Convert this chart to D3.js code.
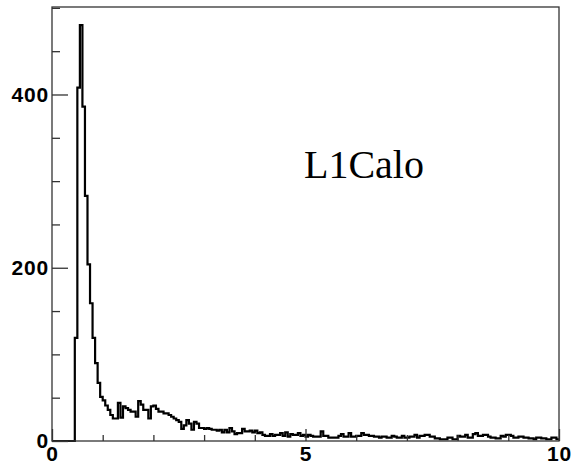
<!DOCTYPE html>
<html>
<head>
<meta charset="utf-8">
<script src="https://cdn.jsdelivr.net/npm/d3@7"></script>
<style>
  body { margin: 0; background: #fff; }
  svg { display: block; }
  .tick text { font-family: "Liberation Sans", Arial, sans-serif; font-weight: bold; font-size: 21px; letter-spacing: 0.8px; fill: #000; }
</style>
</head>
<body>
<script>
// histogram: 200 bins of width 0.05 between 0 and 10
const binWidth = 0.05;
const counts = [
  0, 0, 0, 0, 0, 0, 0, 0, 0, 119,
  408, 480, 386, 283, 204, 159, 119, 90, 67, 51,
  47, 41, 36, 30, 26, 26, 44, 27, 40, 38,
  36, 34, 34, 28, 46, 42, 36, 36, 26, 40,
  41, 37, 34, 34, 32, 32, 30, 28, 26, 24,
  22, 14, 18, 24, 20, 13, 22, 20, 15, 15,
  14, 15, 14, 13, 13, 12, 13, 10, 13, 10,
  15, 11, 8, 9, 9, 14, 11, 11, 12, 10,
  12, 9, 10, 7, 6, 6, 8, 6, 7, 7,
  9, 6, 10, 5, 8, 7, 7, 9, 6, 7,
  5, 7, 6, 5, 5, 5, 11, 6, 6, 4,
  4, 4, 4, 6, 8, 5, 5, 9, 5, 5,
  6, 6, 9, 7, 7, 6, 6, 5, 5, 4,
  5, 5, 4, 4, 6, 5, 4, 4, 6, 4,
  4, 5, 5, 7, 4, 6, 6, 7, 7, 5,
  5, 3, 3, 2, 2, 2, 4, 4, 2, 2,
  6, 5, 5, 7, 4, 4, 8, 9, 6, 6,
  7, 7, 5, 4, 4, 3, 3, 6, 5, 7,
  7, 6, 4, 4, 5, 5, 4, 4, 3, 3,
  2, 4, 4, 3, 3, 2, 2, 4, 4, 2
];
const xMajorTicks = [0, 5, 10];
const xMinorTicks = [1, 2, 3, 4, 6, 7, 8, 9];
const yMajorTicks = [0, 200, 400];
const yMinorTicks = [50, 100, 150, 250, 300, 350, 450, 500];
const label = "L1Calo";

const W = 571, H = 465;
const m = { left: 52, right: 12, top: 7, bottom: 24 };

const svg = d3.select("body").append("svg")
  .attr("width", W)
  .attr("height", H);

const x = d3.scaleLinear().domain([0, 10]).range([m.left, W - m.right]);
const y = d3.scaleLinear().domain([0, 501]).range([H - m.bottom, m.top]);

// histogram outline
const pts = counts.map((c, i) => [i * binWidth, c]);
pts.push([10, counts[counts.length - 1]]);
const line = d3.line()
  .x(d => x(d[0]))
  .y(d => y(d[1]))
  .curve(d3.curveStepAfter);

svg.append("path")
  .attr("d", line(pts))
  .attr("fill", "none")
  .attr("stroke", "#000")
  .attr("stroke-width", 2.2)
  .attr("stroke-linejoin", "miter");

// frame
svg.append("rect")
  .attr("x", x(0))
  .attr("y", y(501))
  .attr("width", x(10) - x(0))
  .attr("height", y(0) - y(501))
  .attr("fill", "none")
  .attr("stroke", "#333")
  .attr("stroke-width", 1.3);

// y axis
svg.append("g")
  .attr("transform", `translate(${m.left},0)`)
  .call(d3.axisLeft(y).tickValues(yMinorTicks).tickSize(-8).tickFormat(""));
svg.append("g")
  .attr("transform", `translate(${m.left},0)`)
  .call(d3.axisLeft(y).tickValues(yMajorTicks).tickSize(-16).tickPadding(3).tickFormat(d3.format("d")));

// x axis
svg.append("g")
  .attr("transform", `translate(0,${H - m.bottom})`)
  .call(d3.axisBottom(x).tickValues(xMinorTicks).tickSize(-6).tickFormat(""));
svg.append("g")
  .attr("transform", `translate(0,${H - m.bottom})`)
  .call(d3.axisBottom(x).tickValues(xMajorTicks).tickSize(-12).tickPadding(5).tickFormat(d3.format("d")));

svg.selectAll(".domain").remove();
svg.selectAll(".tick line").attr("stroke", "#333").attr("stroke-width", 1.3);

// text label
svg.append("text")
  .attr("x", 304)
  .attr("y", 178)
  .attr("font-family", "'Liberation Serif', 'Times New Roman', serif")
  .attr("font-size", 40)
  .attr("fill", "#000")
  .text(label);
</script>
</body>
</html>
